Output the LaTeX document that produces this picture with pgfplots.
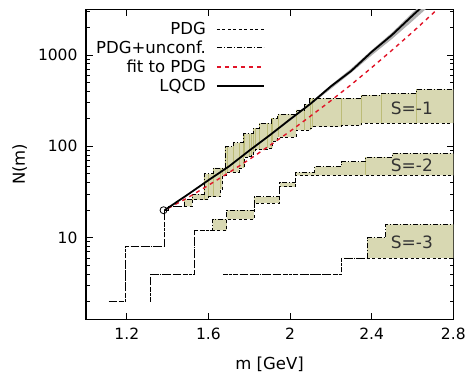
\documentclass[border=0pt]{standalone}
\usepackage{pgfplots}
\pgfplotsset{compat=1.18}
\usepgfplotslibrary{fillbetween}
\usepackage{fontspec}
\setmainfont{DejaVu Sans}
\definecolor{band}{RGB}{216,216,178}
\definecolor{bandline}{RGB}{188,188,120}
\definecolor{fitred}{RGB}{225,20,40}
\definecolor{lqgray}{RGB}{175,175,175}
\begin{document}
\begin{tikzpicture}[font=\fontsize{16.5}{19}\selectfont]
\begin{axis}[
  scale only axis, width=367.3pt, height=310pt,
  xmin=1.0, xmax=2.8, ymode=log, ymin=1.28, ymax=3160,
  xtick={1.2,1.6,2,2.4,2.8}, xticklabels={1.2,1.6,2,2.4,2.8},
  ytick={10,100,1000}, yticklabels={10,100,1000},
  minor ytick={2,3,4,5,6,7,8,9,20,30,40,50,60,70,80,90,200,300,400,500,600,700,800,900,2000,3000},
  tick align=inside, tick pos=both,
  major tick length=6.5pt, minor tick length=3.5pt,
  axis line style={line width=1.3pt},
  every tick/.style={black, line width=0.9pt},
  /pgf/number format/assume math mode=true,
  ticklabel style={font=\fontsize{15.5}{18}\selectfont},
  xticklabel style={yshift=-5pt},
  yticklabel style={xshift=-5pt},
  xlabel={m [GeV]}, ylabel={N(m)},
  xlabel style={yshift=-10.5pt},
  ylabel style={yshift=4pt},
  unbounded coords=jump,
  legend plot pos=right,
  legend cell align=right,
  legend style={at={(0.487,0.966)}, anchor=north east, draw=none, fill=none,
    row sep=1pt, inner sep=0pt,
    /tikz/every odd column/.append style={column sep=8pt}},
  legend image code/.code={\draw[#1] (0pt,0pt) -- (47pt,0pt);},
]
% ---------- S=-1 ----------
\addplot[name path=s1lo, const plot, draw=none, forget plot] coordinates {
 (1.112,2) (1.193,8) (1.385,20) (1.405,22) (1.520,26) (1.600,28) (1.660,34) (1.670,48)
 (1.690,52) (1.750,58) (1.775,76) (1.800,78) (1.810,80) (1.820,86) (1.830,92) (1.890,96)
 (1.915,114) (1.940,126) (2.030,150) (2.100,158) (2.110,164) (2.250,170) (2.350,180) (2.8,180)};
\addplot[name path=s1hi, const plot, draw=none, forget plot] coordinates {
 (1.112,2) (1.193,8) (1.385,20) (1.405,22) (1.48,26) (1.52,30) (1.578,50) (1.624,58)
 (1.681,99) (1.72,110) (1.770,138) (1.82,157) (1.85,178) (1.909,202) (1.94,225) (2.03,250)
 (2.072,290) (2.097,335) (2.35,363) (2.448,380) (2.62,420) (2.8,420)};
\addplot[band, forget plot] fill between[of=s1hi and s1lo];
\addplot[bandline, line width=0.5pt, forget plot] coordinates {
 (1.48,22) (1.48,26) (1.5,nan) (1.52,26) (1.52,30) (1.55,nan) (1.578,26) (1.578,50) (1.59,nan)
 (1.600,28) (1.600,50) (1.61,nan) (1.624,28) (1.624,58) (1.63,nan) (1.660,34) (1.660,58) (1.665,nan)
 (1.670,48) (1.670,58) (1.675,nan) (1.681,48) (1.681,99) (1.685,nan) (1.690,52) (1.690,99) (1.70,nan)
 (1.72,52) (1.72,110) (1.73,nan) (1.750,58) (1.750,110) (1.76,nan) (1.770,58) (1.770,138) (1.772,nan)
 (1.775,76) (1.775,138) (1.78,nan) (1.800,78) (1.800,138) (1.805,nan) (1.810,80) (1.810,138) (1.815,nan)
 (1.820,86) (1.820,157) (1.825,nan) (1.830,92) (1.830,157) (1.84,nan) (1.85,92) (1.85,178) (1.86,nan)
 (1.890,96) (1.890,178) (1.90,nan) (1.909,96) (1.909,202) (1.912,nan) (1.915,114) (1.915,202) (1.92,nan)
 (1.94,126) (1.94,225) (1.95,nan) (2.03,150) (2.03,250) (2.04,nan) (2.072,150) (2.072,290) (2.08,nan)
 (2.097,150) (2.097,335) (2.099,nan) (2.100,158) (2.100,335) (2.105,nan) (2.110,164) (2.110,335) (2.12,nan)
 (2.250,170) (2.250,335) (2.26,nan) (2.35,180) (2.35,363) (2.36,nan) (2.448,180) (2.448,380) (2.46,nan)
 (2.62,180) (2.62,420)};
% ---------- S=-2 ----------
\addplot[name path=s2lo, const plot, draw=none, forget plot] coordinates {
 (1.318,2) (1.318,4) (1.531,12) (1.69,16) (1.823,24) (1.95,36) (2.025,48) (2.8,48)};
\addplot[name path=s2hi, const plot, draw=none, forget plot] coordinates {
 (1.318,2) (1.318,4) (1.531,12) (1.62,16) (1.69,20) (1.823,28) (1.95,40) (2.025,52)
 (2.12,60) (2.25,68) (2.37,76) (2.50,84) (2.8,84)};
\addplot[band, forget plot] fill between[of=s2hi and s2lo];
\addplot[bandline, line width=0.5pt, forget plot] coordinates {(2.37,48) (2.37,76)};
% ---------- S=-3 ----------
\addplot[name path=s3lo, const plot, draw=none, forget plot] coordinates {
 (1.672,4) (2.252,6) (2.8,6)};
\addplot[name path=s3hi, const plot, draw=none, forget plot] coordinates {
 (1.672,4) (2.252,6) (2.378,10) (2.469,14) (2.8,14)};
\addplot[band, forget plot] fill between[of=s3hi and s3lo];
% ---------- LQCD band ----------
\addplot[name path=lqhi, draw=none, forget plot] coordinates {
 (1.385,20) (1.5,29.8) (1.6,42.7) (1.7,61) (1.8,91) (1.9,135) (2.0,202) (2.1,300) (2.2,470) (2.3,710)
 (2.4,1130) (2.5,1760) (2.6,2900) (2.68,4300)};
\addplot[name path=lqlo, draw=none, forget plot] coordinates {
 (1.385,20) (1.5,29.8) (1.6,42.5) (1.7,59.5) (1.8,88) (1.9,129) (2.0,190) (2.1,285) (2.2,425) (2.3,640)
 (2.4,990) (2.5,1500) (2.6,2350) (2.68,3400)};
\addplot[lqgray, forget plot] fill between[of=lqhi and lqlo];
% ---------- step lines (other strangeness sectors) ----------
\addplot[black, line width=0.8pt, const plot, dash pattern=on 3pt off 2.5pt, forget plot] coordinates {
 (1.318,2) (1.318,4) (1.531,12) (1.69,16) (1.823,24) (1.95,36) (2.025,48) (2.8,48)};
\addplot[black, line width=0.8pt, const plot, dash pattern=on 5pt off 2pt on 1pt off 2pt, forget plot] coordinates {
 (1.318,2) (1.318,4) (1.531,12) (1.62,16) (1.69,20) (1.823,28) (1.95,40) (2.025,52)
 (2.12,60) (2.25,68) (2.37,76) (2.50,84) (2.8,84)};
\addplot[black, line width=0.8pt, const plot, dash pattern=on 3pt off 2.5pt, forget plot] coordinates {
 (1.672,4) (2.252,6) (2.8,6)};
\addplot[black, line width=0.8pt, const plot, dash pattern=on 5pt off 2pt on 1pt off 2pt, forget plot] coordinates {
 (1.672,4) (2.252,6) (2.378,10) (2.469,14) (2.8,14)};
% ---------- S=-1 lines (with legend) ----------
\addplot[black, line width=0.8pt, const plot, dash pattern=on 3pt off 2.5pt] coordinates {
 (1.112,2) (1.193,8) (1.385,20) (1.405,22) (1.520,26) (1.600,28) (1.660,34) (1.670,48)
 (1.690,52) (1.750,58) (1.775,76) (1.800,78) (1.810,80) (1.820,86) (1.830,92) (1.890,96)
 (1.915,114) (1.940,126) (2.030,150) (2.100,158) (2.110,164) (2.250,170) (2.350,180) (2.8,180)};
\addlegendentry{PDG}
\addplot[black, line width=0.8pt, const plot, dash pattern=on 5pt off 2pt on 1pt off 2pt] coordinates {
 (1.112,2) (1.193,8) (1.385,20) (1.405,22) (1.48,26) (1.52,30) (1.578,50) (1.624,58)
 (1.681,99) (1.72,110) (1.770,138) (1.82,157) (1.85,178) (1.909,202) (1.94,225) (2.03,250)
 (2.072,290) (2.097,335) (2.35,363) (2.448,380) (2.62,420) (2.8,420)};
\addlegendentry{PDG+unconf.}
\addplot[fitred, line width=1.4pt, dash pattern=on 4pt off 4pt] coordinates {
 (1.403,21) (1.5,27.5) (1.6,37.5) (1.7,51.5) (1.8,71.8) (1.9,102) (2.0,146) (2.1,214) (2.2,316)
 (2.3,474) (2.4,727) (2.5,1130) (2.6,1775) (2.722,3160)};
\addlegendentry{fit to PDG}
\addplot[black, line width=1.8pt] coordinates {
 (1.385,20) (1.5,29.8) (1.6,42.6) (1.7,60.2) (1.8,89.8) (1.9,132) (2.0,197.6) (2.1,292) (2.2,453)
 (2.3,670) (2.4,1081) (2.5,1660) (2.6,2698) (2.68,3926)};
\addlegendentry{LQCD}
\addplot[black, only marks, mark=o, mark size=3.5pt, line width=0.8pt, forget plot] coordinates {(1.38,20)};
\node[text=black!80, font=\fontsize{17}{20}\selectfont] at (axis cs:2.597,260) {S=-1};
\node[text=black!80, font=\fontsize{17}{20}\selectfont] at (axis cs:2.597,62.4) {S=-2};
\node[text=black!80, font=\fontsize{17}{20}\selectfont] at (axis cs:2.597,8.9) {S=-3};
\end{axis}
\pgfresetboundingbox
\path (-86pt,-54.7pt) rectangle (385pt,319.3pt);
\end{tikzpicture}
\end{document}
